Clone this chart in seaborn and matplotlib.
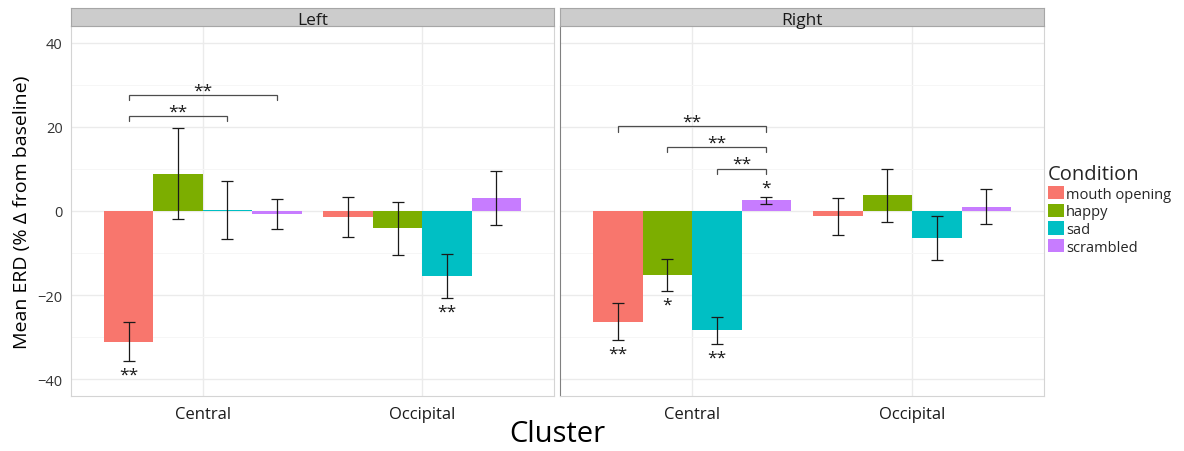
import matplotlib
matplotlib.use("Agg")
import matplotlib.pyplot as plt
import numpy as np
import pandas as pd
import seaborn as sns

sides = ["Left", "Right"]
clusters = ["Central", "Occipital"]
conditions = ["mouth opening", "happy", "sad", "scrambled"]
palette = ["#F8766D", "#7CAE00", "#00BFC4", "#C77CFF"]

# mean ERD (% change from baseline), ordered as `conditions`
left_central = [-31.1, 8.9, 0.15, -0.7]
left_occipital = [-1.4, -4.1, -15.5, 3.1]
right_central = [-26.3, -15.2, -28.4, 2.5]
right_occipital = [-1.3, 3.7, -6.4, 1.0]

# half-width of the error bars
left_central_err = [4.6, 10.8, 6.9, 3.6]
left_occipital_err = [4.7, 6.3, 5.2, 6.4]
right_central_err = [4.4, 3.8, 3.2, 0.8]
right_occipital_err = [4.4, 6.4, 5.2, 4.2]

# significance against baseline
left_central_sig = ["**", "", "", ""]
left_occipital_sig = ["", "", "**", ""]
right_central_sig = ["**", "*", "**", "*"]
right_occipital_sig = ["", "", "", ""]

# pairwise comparisons: panel, cluster, first condition, second condition, height, label
brackets = [
    ("Left", "Central", "mouth opening", "sad", 22.5, "**"),
    ("Left", "Central", "mouth opening", "scrambled", 27.5, "**"),
    ("Right", "Central", "mouth opening", "scrambled", 20.1, "**"),
    ("Right", "Central", "happy", "scrambled", 15.2, "**"),
    ("Right", "Central", "sad", "scrambled", 10.1, "**"),
]

table = {
    ("Left", "Central"): (left_central, left_central_err, left_central_sig),
    ("Left", "Occipital"): (left_occipital, left_occipital_err, left_occipital_sig),
    ("Right", "Central"): (right_central, right_central_err, right_central_sig),
    ("Right", "Occipital"): (right_occipital, right_occipital_err, right_occipital_sig),
}
rows = []
for (side, cluster), (means, errs, sigs) in table.items():
    for cond, m, e, s in zip(conditions, means, errs, sigs):
        rows.append(dict(Side=side, Cluster=cluster, Condition=cond, ERD=m, SE=e, Sig=s))
df = pd.DataFrame(rows)

sns.set_style("white")
plt.rcParams["font.family"] = ["Open Sans", "DejaVu Sans"]
plt.rcParams["axes.unicode_minus"] = True

W, H = 1184, 452
fig = plt.figure(figsize=(W / 100, H / 100), dpi=100)
fig.patch.set_facecolor("white")


def box(x0, y0, x1, y1):
    return [x0 / W, 1 - y1 / H, (x1 - x0) / W, (y1 - y0) / H]


panels = {
    "Left": (71, 554),
    "Right": (560, 1044),
}
PANEL_TOP, PANEL_BOTTOM, STRIP_TOP = 27, 397, 9
STAR_SIZE = 12.5
STAR_DROP = -4.8  # baseline offset (points) so the asterisks sit centred on their y

axes = {}
for side in sides:
    x0, x1 = panels[side]
    ax = fig.add_axes(box(x0, PANEL_TOP, x1, PANEL_BOTTOM))
    axes[side] = ax
    sub = df[df.Side == side]
    sns.barplot(
        data=sub, x="Cluster", y="ERD", hue="Condition",
        order=clusters, hue_order=conditions, palette=palette,
        saturation=1, width=0.9, errorbar=None, linewidth=0,
        ax=ax, legend=(side == "Right"), zorder=2,
    )

    # bar centres taken from the drawn patches
    centers = {}
    for cond, cont in zip(conditions, ax.containers):
        for cluster, bar in zip(clusters, cont):
            centers[(cluster, cond)] = bar.get_x() + bar.get_width() / 2

    xs = [centers[(r.Cluster, r.Condition)] for r in sub.itertuples()]
    ax.errorbar(xs, sub.ERD, yerr=sub.SE, fmt="none", ecolor="#1A1A1A",
                elinewidth=0.9, capsize=4, capthick=0.9, zorder=3)

    # stars against baseline, beyond the end of each error bar
    for x, r in zip(xs, sub.itertuples()):
        if not r.Sig:
            continue
        if r.ERD < 0:
            yv = r.ERD - r.SE - 2.7
        else:
            yv = r.ERD + r.SE + 2.9
        ax.annotate(r.Sig, xy=(x, yv), xytext=(0, STAR_DROP), textcoords="offset points",
                    ha="center", va="baseline", fontsize=STAR_SIZE, color="#1A1A1A")

    # comparison brackets
    for b_side, cluster, ca, cb, yb, lab in brackets:
        if b_side != side:
            continue
        xa, xb = centers[(cluster, ca)], centers[(cluster, cb)]
        ax.plot([xa, xa, xb, xb], [yb - 1.2, yb, yb, yb - 1.2], color="#4D4D4D",
                lw=0.9, zorder=3, solid_joinstyle="miter")
        ax.annotate(lab, xy=((xa + xb) / 2, yb + 1.7), xytext=(0, STAR_DROP),
                    textcoords="offset points", ha="center", va="baseline",
                    fontsize=STAR_SIZE, color="#1A1A1A")

    ax.set_xlim(-0.6, 1.6)
    ax.set_ylim(-44, 44)
    ax.set_yticks([-40, -20, 0, 20, 40])
    ax.set_yticks([-30, -10, 10, 30], minor=True)
    ax.set_axisbelow(True)
    ax.grid(which="major", color="#EBEBEB", lw=1.0, zorder=0)
    ax.grid(which="minor", axis="y", color="#F6F6F6", lw=0.7, zorder=0)
    ax.set_xlabel("")
    ax.set_ylabel("")
    ax.tick_params(axis="x", which="major", length=3, width=0.8, color="#333333",
                   pad=4, labelsize=12, labelcolor="#1A1A1A")
    ax.tick_params(axis="y", which="minor", length=0)
    if side == "Left":
        ax.tick_params(axis="y", which="major", length=3, width=0.8, color="#333333",
                       pad=3, labelsize=10.5, labelcolor="#333333")
    else:
        ax.tick_params(axis="y", which="major", length=0, labelleft=False)
    for name, sp in ax.spines.items():
        sp.set_visible(True)
        sp.set_linewidth(0.8)
        sp.set_color("#D4D4D4")
    if side == "Right":
        ax.spines["left"].set_color("#808080")

    # facet strip
    sx = fig.add_axes(box(x0, STRIP_TOP, x1, PANEL_TOP))
    sx.set_facecolor("#CCCCCC")
    sx.set_xticks([])
    sx.set_yticks([])
    for name, sp in sx.spines.items():
        sp.set_linewidth(0.8)
        sp.set_color("#A6A6A6")
    sx.text(0.5, 0.1, side, transform=sx.transAxes, ha="center", va="baseline",
            fontsize=12.5, color="#1A1A1A")

handles, labels = axes["Right"].get_legend_handles_labels()
axes["Right"].get_legend().remove()
fig.legend(handles, labels, title="Condition", loc="upper left",
           bbox_to_anchor=(1048 / W, 1 - 165 / H), frameon=False,
           fontsize=10.5, title_fontsize=14.5, handlelength=1.1, handleheight=1.05,
           handletextpad=0.15, labelspacing=0.13, borderpad=0, borderaxespad=0,
           alignment="left")

fig.text(22 / W, 1 - 212 / H, "Mean ERD (% Δ from baseline)", rotation=90,
         ha="center", va="center", fontsize=14, color="#000000")
fig.text(557 / W, 1 - 435 / H, "Cluster", ha="center", va="center",
         fontsize=21, color="#000000")

fig.savefig("out.png", dpi=100, facecolor="white")
